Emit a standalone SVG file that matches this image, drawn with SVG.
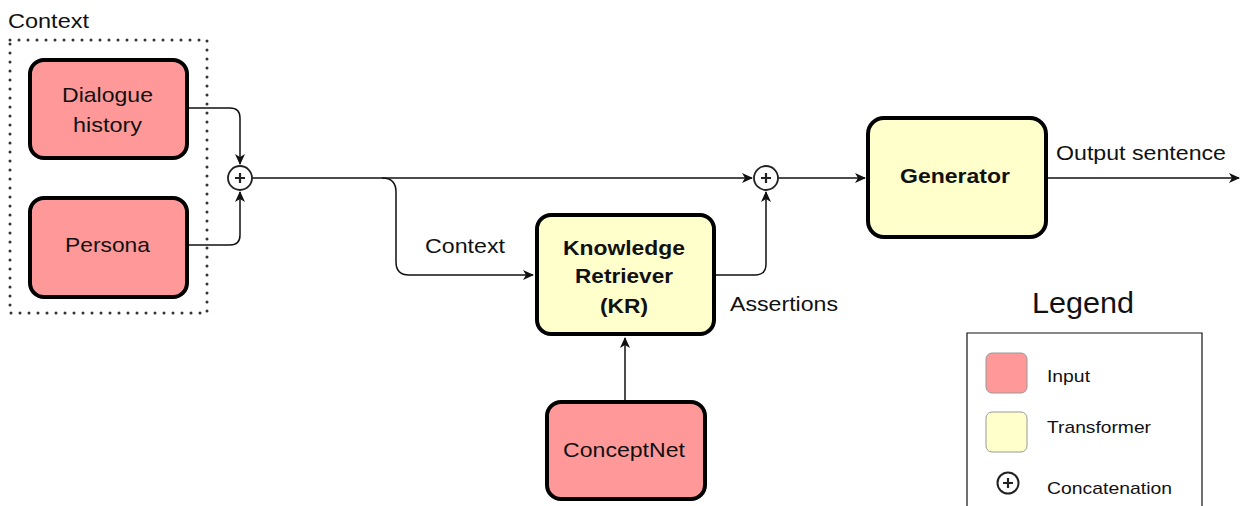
<svg xmlns="http://www.w3.org/2000/svg" width="1246" height="506" viewBox="0 0 1246 506">
<style>
.t{font-family:"Liberation Sans",Arial,sans-serif;fill:#111}
.in{fill:#FF9999;stroke:#000;stroke-width:4}
.tr{fill:#FFFFCC;stroke:#000;stroke-width:4}
.c{fill:none;stroke:#111;stroke-width:1.5}
.op{fill:#fff;stroke:#222;stroke-width:1.8}
.pl{stroke:#222;stroke-width:2.2}
</style>
<defs>
<marker id="ah" markerWidth="12" markerHeight="10" refX="10" refY="5" orient="auto" markerUnits="userSpaceOnUse">
<path d="M0,0 L11,5 L0,10 L3,5 Z" fill="#111"/>
</marker>
</defs>
<rect width="1246" height="506" fill="#fff"/>
<g id="context-group">
<text class="t" x="8" y="28" font-size="20" textLength="81" lengthAdjust="spacingAndGlyphs">Context</text>
<rect x="10" y="40" width="197" height="273" fill="none" stroke="#333" stroke-width="3" stroke-dasharray="0 9" stroke-linecap="round"/>
</g>
<g id="connectors">
<path class="c" d="M187,108 H230 Q240,108 240,118 V164" marker-end="url(#ah)"/>
<path class="c" d="M187,245 H230 Q240,245 240,235 V192" marker-end="url(#ah)"/>
<path class="c" d="M252,178 H752" marker-end="url(#ah)"/>
<path class="c" d="M382,178 Q396,178 396,192 V262 Q396,275 409,275 H533" marker-end="url(#ah)"/>
<path class="c" d="M715,275 H755 Q766,275 766,264 V192" marker-end="url(#ah)"/>
<path class="c" d="M778,178 H865" marker-end="url(#ah)"/>
<path class="c" d="M1047,178 H1239" marker-end="url(#ah)"/>
<path class="c" d="M625,402 V338" marker-end="url(#ah)"/>
<text class="t" x="425" y="253" font-size="20" textLength="80" lengthAdjust="spacingAndGlyphs">Context</text>
<text class="t" x="730" y="311" font-size="20" textLength="108" lengthAdjust="spacingAndGlyphs">Assertions</text>
<text class="t" x="1056" y="160" font-size="20" textLength="170" lengthAdjust="spacingAndGlyphs">Output sentence</text>
</g>
<g id="dialogue-history">
<rect class="in" x="30" y="60" width="157" height="98" rx="14"/>
<text class="t" x="62" y="102" font-size="21" textLength="91" lengthAdjust="spacingAndGlyphs">Dialogue</text>
<text class="t" x="73" y="132" font-size="21" textLength="69" lengthAdjust="spacingAndGlyphs">history</text>
</g>
<g id="persona">
<rect class="in" x="30" y="198" width="157" height="99" rx="14"/>
<text class="t" x="65" y="252" font-size="21" textLength="85" lengthAdjust="spacingAndGlyphs">Persona</text>
</g>
<g id="concat1">
<circle class="op" cx="240" cy="178" r="12"/>
<path class="pl" d="M235,178 H245 M240,173 V183"/>
</g>
<g id="kr">
<rect class="tr" x="537" y="215" width="177" height="119" rx="14"/>
<text class="t" x="563" y="255" font-size="20" font-weight="bold" textLength="122" lengthAdjust="spacingAndGlyphs">Knowledge</text>
<text class="t" x="575" y="283" font-size="20" font-weight="bold" textLength="98" lengthAdjust="spacingAndGlyphs">Retriever</text>
<text class="t" x="600" y="313" font-size="20" font-weight="bold" textLength="48" lengthAdjust="spacingAndGlyphs">(KR)</text>
</g>
<g id="concat2">
<circle class="op" cx="766" cy="178" r="12"/>
<path class="pl" d="M761,178 H771 M766,173 V183"/>
</g>
<g id="generator">
<rect class="tr" x="868" y="118" width="178" height="119" rx="16"/>
<text class="t" x="900" y="183" font-size="20" font-weight="bold" textLength="110" lengthAdjust="spacingAndGlyphs">Generator</text>
</g>
<g id="conceptnet">
<rect class="in" x="547" y="402" width="158" height="97" rx="14"/>
<text class="t" x="563" y="457" font-size="21" textLength="122" lengthAdjust="spacingAndGlyphs">ConceptNet</text>
</g>
<g id="legend">
<text class="t" x="1032" y="313" font-size="29" textLength="102" lengthAdjust="spacingAndGlyphs">Legend</text>
<path d="M967,506 V333 H1202 V506" fill="none" stroke="#111" stroke-width="1.2"/>
<rect x="986" y="353" width="41" height="40" rx="6" fill="#FF9999" stroke="#999" stroke-width="1"/>
<text class="t" x="1047" y="382" font-size="17" textLength="43" lengthAdjust="spacingAndGlyphs">Input</text>
<rect x="986" y="412" width="41" height="40" rx="6" fill="#FFFFCC" stroke="#999" stroke-width="1"/>
<text class="t" x="1047" y="433" font-size="17" textLength="104" lengthAdjust="spacingAndGlyphs">Transformer</text>
<circle cx="1008" cy="483" r="10.5" fill="#fff" stroke="#222" stroke-width="2"/>
<path class="pl" d="M1003,483 H1013 M1008,478 V488"/>
<text class="t" x="1047" y="494" font-size="17" textLength="125" lengthAdjust="spacingAndGlyphs">Concatenation</text>
</g>
</svg>
